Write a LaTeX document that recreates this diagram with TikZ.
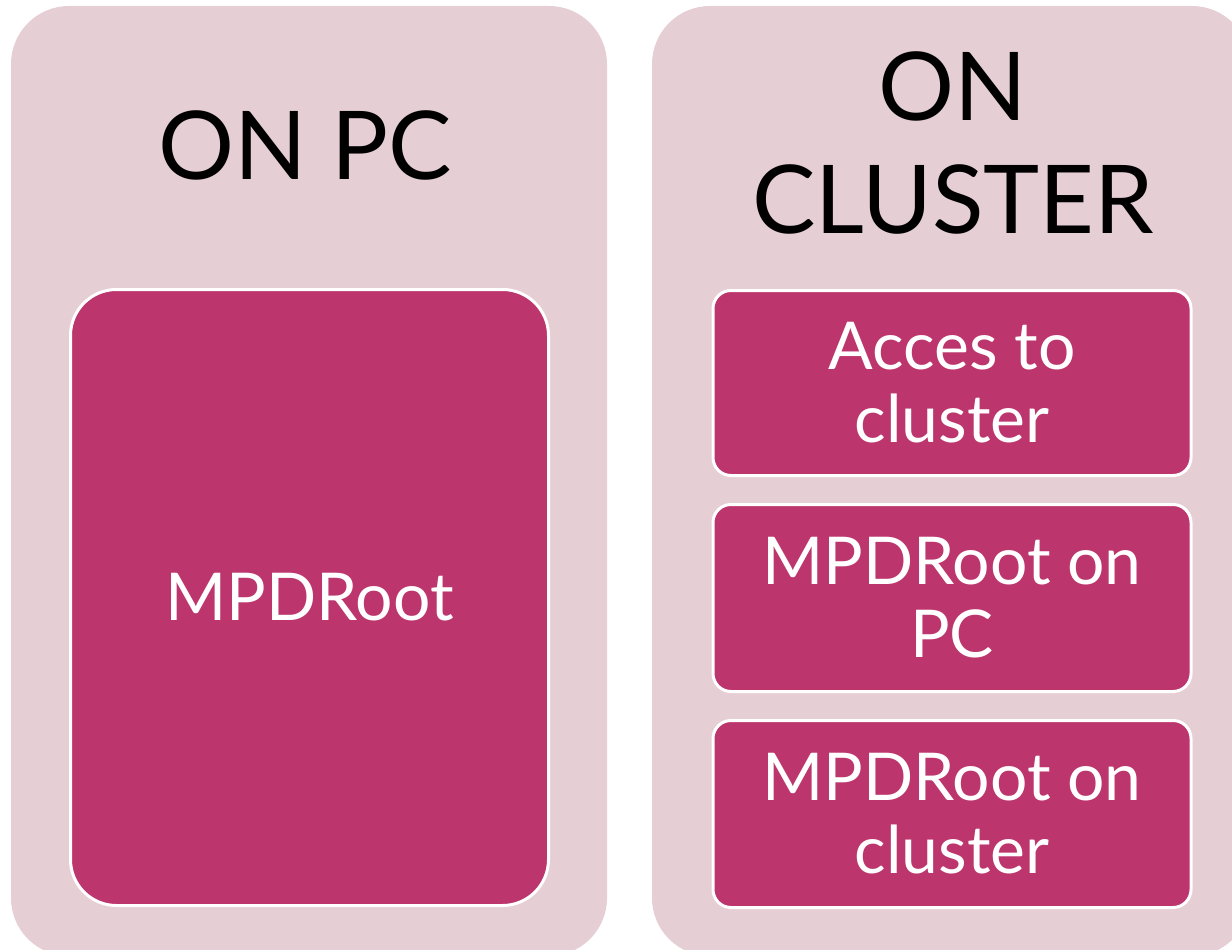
\documentclass[tikz,border=0pt]{standalone}
\usepackage{fontspec}
\setmainfont{Lato}
\usetikzlibrary{positioning}
\definecolor{panelpink}{RGB}{230,206,213}
\definecolor{boxmagenta}{RGB}{189,53,109}

\begin{document}
\begin{tikzpicture}[x=1pt,y=-1pt,
    panel/.style={fill=panelpink, rounded corners=58pt},
    itembox/.style={draw=white, line width=3pt, fill=boxmagenta, text=white,
        align=center, font=\fontsize{66}{73}\selectfont, inner sep=0pt},
    title/.style={align=center, font=\fontsize{95}{113}\selectfont}]
    % Canvas
    \useasboundingbox (0,0) rectangle (1232,950);
    \clip (0,0) rectangle (1232,950);

    % The two panels
    \fill[panel] (11,6) rectangle (607,956);
    \fill[panel] (652,6) rectangle (1250,956);

    % Panel titles
    \node[title] (pc) at (305,145) {ON PC};
    \node[title] (cluster) at (953,143) {ON\\CLUSTER};

    % Left panel content
    \node[itembox, rounded corners=46pt, minimum width=478pt, minimum height=616pt] (mpd) at (309.5,597.5) {MPDRoot};

    % Right panel content
    \node[itembox, rounded corners=18pt, minimum width=478pt, minimum height=185pt] (access) at (952,383) {Acces to\\cluster};
    \node[itembox, rounded corners=18pt, minimum width=478pt, minimum height=187pt, below=26pt of access] (mpdpc) {MPDRoot on\\PC};
    \node[itembox, rounded corners=18pt, minimum width=478pt, minimum height=187pt, below=26pt of mpdpc] (mpdcl) {MPDRoot on\\cluster};
\end{tikzpicture}
\end{document}
